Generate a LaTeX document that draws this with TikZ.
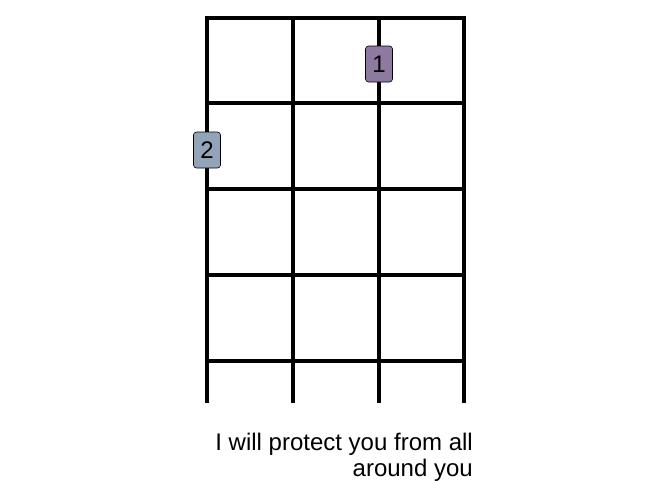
\documentclass[tikz,border=0pt]{standalone}
\usepackage{fontspec}
\setmainfont{Liberation Sans}
\definecolor{fingerone}{RGB}{142,121,160}
\definecolor{fingertwo}{RGB}{146,164,184}
\begin{document}
\begin{tikzpicture}[
      x=1pt, y=-1pt,
      font=\fontsize{24}{26}\selectfont,
      fret/.style={draw=black, line width=4pt},
      marker/.style={draw=black, line width=.6pt, rounded corners=3pt,
                     minimum width=27pt, minimum height=36pt, inner sep=0pt}
    ]
    \useasboundingbox (0,0) rectangle (672,480);
    % Nut, outer strings and frets.
    \draw[fret, line join=miter] (207,403) -- (207,18) -- (464,18) -- (464,403);
    \draw[fret] (293,18) -- (293,403);
    \draw[fret] (379,18) -- (379,403);
    \draw[fret] (207,103) -- (464,103);
    \draw[fret] (207,189) -- (464,189);
    \draw[fret] (207,275) -- (464,275);
    \draw[fret] (207,361) -- (464,361);

    % Finger positions.
    \node[marker, fill=fingerone] (one) at (379,64) {1};
    \node[marker, fill=fingertwo] (two) at (207,150) {2};

    % Caption.
    \node[align=right, anchor=base east, inner sep=0pt] (caption) at (473,476)
      {I will protect you from all\\around you};
\end{tikzpicture}
\end{document}
